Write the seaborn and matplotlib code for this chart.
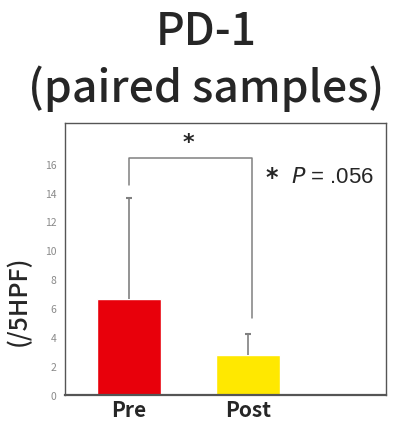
import matplotlib
matplotlib.use("Agg")
import matplotlib.pyplot as plt
import seaborn as sns
import pandas as pd

# Datos
groups = ["Pre", "Post"]
means = [6.65, 2.77]
sd = [6.95, 1.45]
bar_colors = ["#e8000b", "#ffe800"]
p_text = ".056"

sns.set_theme(style="white")
plt.rcParams['font.family'] = ['Noto Sans CJK JP', 'DejaVu Sans']

df = pd.DataFrame({"group": groups, "mean": means})

fig = plt.figure(figsize=(4.13, 4.31), dpi=100)
ax = fig.add_axes([0.157, 0.081, 0.778, 0.631])

sns.barplot(data=df, x="group", y="mean", hue="group", palette=bar_colors,
            width=0.54, legend=False, ax=ax, saturation=1)
# Barras de error solo hacia arriba (SD)
tops = [m + s for m, s in zip(means, sd)]
ax.vlines(range(len(groups)), means, tops, color="#808080", lw=1.2, zorder=1)
ax.plot(range(len(groups)), tops, ls="none", marker="_", ms=5, mew=1.5,
        color="#808080")

ax.set_xlim(-0.54, 2.16)
ax.set_ylim(0, 18.8)
ax.set_yticks(range(0, 17, 2))
ax.tick_params(axis="y", labelsize=7.5, labelcolor="#8a8a8a", length=0, pad=6)
ax.tick_params(axis="x", labelsize=15, length=0, pad=3)
for lbl in ax.get_xticklabels():
    lbl.set_fontweight("bold")
ax.set_xlabel("")
ax.set_ylabel("(/5HPF)", fontsize=18, fontweight="medium")
ax.yaxis.set_label_coords(-0.102, 0.35)

for s in ["top", "right", "left"]:
    ax.spines[s].set_color("#555555")
    ax.spines[s].set_linewidth(1.0)
ax.spines["bottom"].set_color("#555555")
ax.spines["bottom"].set_linewidth(1.6)

# Corchete de significancia
bk = "#808080"
top = 16.4
ax.plot([0, 0, 1.03, 1.03], [14.5, top, top, 5.3], color=bk, lw=1.1)
ax.text(0.5, top + 0.4, "*", ha="center", va="bottom", fontsize=16,
        fontweight="bold", family=["DejaVu Sans"])
ax.text(1.15, 15.1, "*", ha="left", va="center", fontsize=17,
        fontweight="bold", family=["DejaVu Sans"])
ax.text(1.36, 15.1, r"$\it{P}$ = " + p_text, ha="left", va="center",
        fontsize=16, family=["Liberation Sans"])

fig.text(0.5, 0.925, "PD-1", ha="center", va="center", fontsize=32,
         fontweight="medium")
fig.text(0.5, 0.795, "(paired samples)", ha="center", va="center",
         fontsize=32, fontweight="medium")

fig.savefig("out.png", dpi=100)
